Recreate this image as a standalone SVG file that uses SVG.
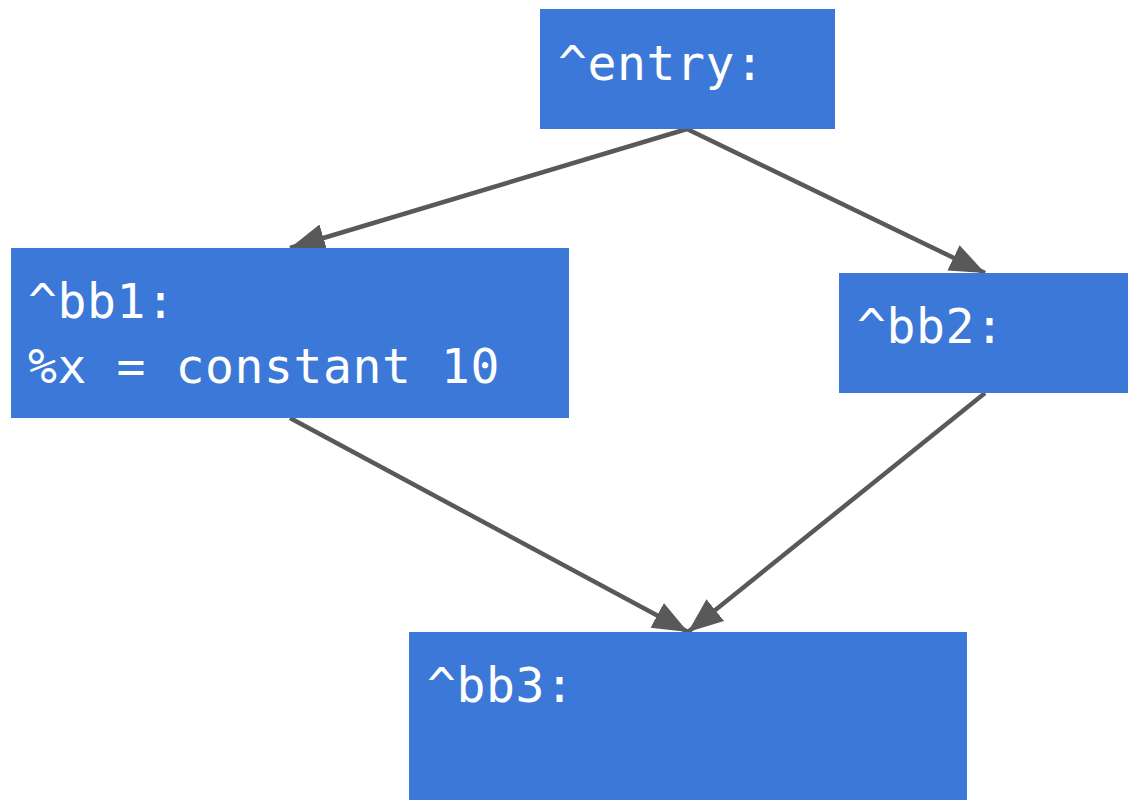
<svg xmlns="http://www.w3.org/2000/svg" width="1128" height="801" viewBox="0 0 1128 801">
<style>
.node{fill:#3c78d8}
.lbl{font-family:"DejaVu Sans Mono","Liberation Mono",monospace;font-size:48px;letter-spacing:0.6px;fill:#ffffff}
.edge{stroke:#595959;stroke-width:4.5;fill:none}
</style>
<defs>
<marker id="arr" markerUnits="userSpaceOnUse" markerWidth="38" markerHeight="32" refX="35" refY="16" orient="auto">
<path d="M0,2 L35,16 L0,30 Z" fill="#595959"/>
</marker>
</defs>
<rect width="1128" height="801" fill="#ffffff"/>
<g id="connectors">
<line class="edge" x1="687" y1="129" x2="290" y2="248" marker-end="url(#arr)"/>
<line class="edge" x1="687" y1="129" x2="985" y2="273" marker-end="url(#arr)"/>
<line class="edge" x1="290" y1="418" x2="688" y2="632" marker-end="url(#arr)"/>
<line class="edge" x1="985" y1="393" x2="688" y2="632" marker-end="url(#arr)"/>
</g>
<g id="entry">
<rect class="node" x="540" y="9" width="295" height="120"/>
<text class="lbl" x="558" y="80">^entry:</text>
</g>
<g id="bb1">
<rect class="node" x="11" y="248" width="558" height="170"/>
<text class="lbl" x="28" y="318">^bb1:</text>
<text class="lbl" x="28" y="383">%x = constant 10</text>
</g>
<g id="bb2">
<rect class="node" x="839" y="273" width="289" height="120"/>
<text class="lbl" x="857" y="343">^bb2:</text>
</g>
<g id="bb3">
<rect class="node" x="409" y="632" width="558" height="168"/>
<text class="lbl" x="427" y="702">^bb3:</text>
</g>
</svg>
